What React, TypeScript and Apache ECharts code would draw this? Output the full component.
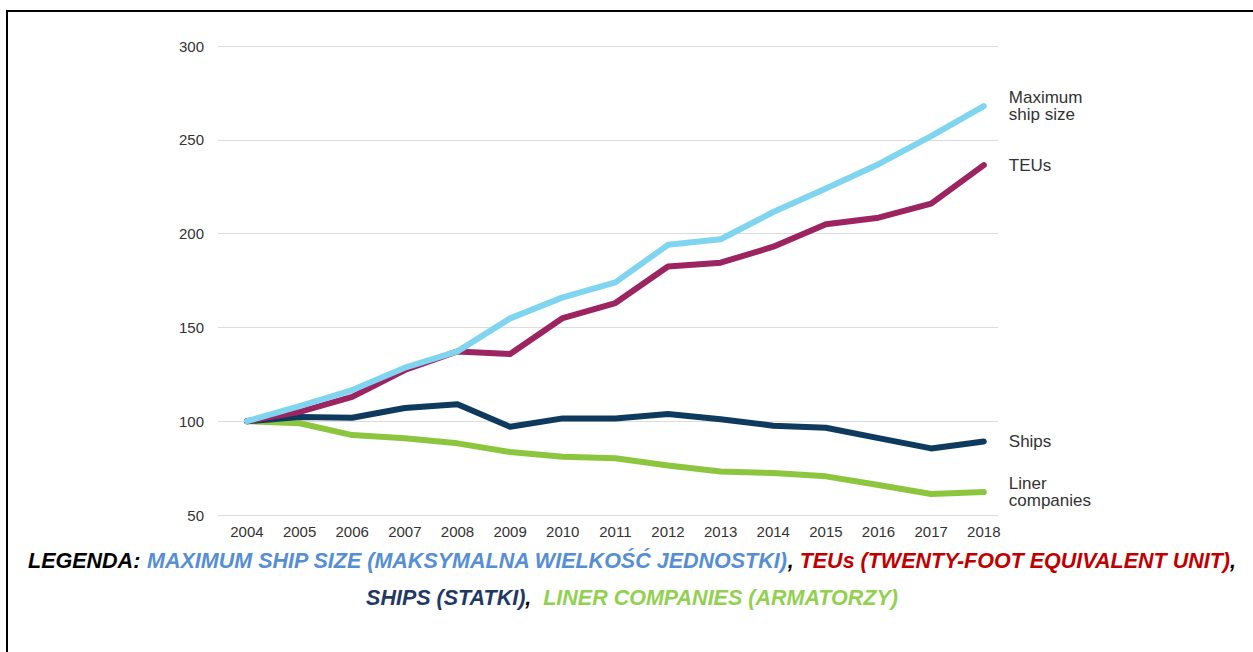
import React, { useEffect, useRef } from "react";
import * as echarts from "echarts";

const years = [2004, 2005, 2006, 2007, 2008, 2009, 2010, 2011, 2012, 2013, 2014, 2015, 2016, 2017, 2018];
const maxShipSize = [100, 108, 116.6, 128.5, 137.2, 154.8, 166, 174, 194, 197, 211.5, 224, 237, 252, 268];
const teus = [100, 105, 113, 127.3, 137.2, 135.8, 155, 163, 182.5, 184.5, 193, 205, 208.5, 216, 236.5];
const ships = [100, 102.2, 101.8, 107, 109, 97, 101.5, 101.5, 103.8, 101, 97.6, 96.5, 91, 85.5, 89.2];
const liner = [100, 98.9, 92.6, 90.9, 88.2, 83.6, 81.1, 80.2, 76.4, 73.2, 72.4, 70.6, 66, 61.2, 62.2];
const yTicks = [50, 100, 150, 200, 250, 300];

const seriesNames = ["Liner\ncompanies", "Ships", "TEUs", "Maximum\nship size"];
const seriesColors = ["#8cc63f", "#0e3a5e", "#9c2461", "#7fd5f0"];
const seriesData = [liner, ships, teus, maxShipSize];

export default function App() {
  const ref = useRef<HTMLDivElement>(null);
  useEffect(() => {
    if (!ref.current) return;
    const chart = echarts.init(ref.current, undefined, { renderer: "svg" });
    const font = "Liberation Sans";
    const legendFont = `italic bold 21.5px '${font}', Arial, sans-serif`;
    const legendStyle = (fill: string) => ({
      fill,
      font: legendFont,
    });
    chart.setOption({
      animation: false,
      backgroundColor: "#ffffff",
      grid: { left: 218, right: 255, top: 46, bottom: 137 },
      xAxis: {
        type: "value",
        min: 2003.45,
        max: 2018.27,
        splitLine: { show: false },
        axisLine: { show: false },
        axisTick: { show: false },
        axisLabel: {
          customValues: years,
          formatter: (v: number) => String(v),
          color: "#333333",
          fontFamily: font,
          fontSize: 15,
          margin: 9,
        },
      },
      yAxis: {
        type: "value",
        min: 50,
        max: 300,
        interval: 50,
        axisLine: { show: false },
        axisTick: { show: false },
        splitLine: { lineStyle: { color: "#dcdcdc", width: 1 } },
        axisLabel: {
          customValues: yTicks,
          color: "#333333",
          fontFamily: font,
          fontSize: 15,
          margin: 14,
        },
      },
      series: seriesData.map((d, i) => ({
        type: "line",
        name: seriesNames[i],
        data: d.map((v, j) => [years[j], v]),
        symbol: "none",
        lineStyle: { color: seriesColors[i], width: 6, cap: "round", join: "round" },
        itemStyle: { color: seriesColors[i] },
        endLabel: {
          show: true,
          formatter: seriesNames[i],
          color: "#333333",
          fontFamily: font,
          fontSize: 17,
          lineHeight: 17,
          distance: 25,
          align: "left",
          verticalAlign: "middle",
        },
        z: 2 + i,
      })),
      graphic: [
        {
          type: "rect",
          shape: { x: 7, y: 11, width: 1270, height: 700 },
          style: { fill: "none", stroke: "#000000", lineWidth: 2 },
          silent: true,
        },
        {
          type: "text",
          x: 632,
          y: 561,
          style: {
            text:
              "{k|LEGENDA:} {b|MAXIMUM SHIP SIZE (MAKSYMALNA WIELKOŚĆ JEDNOSTKI)}{k|, }{r|TEUs (TWENTY-FOOT EQUIVALENT UNIT)}{k|,}",
            align: "center",
            verticalAlign: "middle",
            font: legendFont,
            fill: "#000000",
            rich: {
              k: legendStyle("#000000"),
              b: legendStyle("#558ed5"),
              r: legendStyle("#c00000"),
            },
          },
        },
        {
          type: "text",
          x: 632,
          y: 598,
          style: {
            text: "{n|SHIPS (STATKI)}{k|,  }{g|LINER COMPANIES (ARMATORZY)}",
            align: "center",
            verticalAlign: "middle",
            font: legendFont,
            fill: "#000000",
            rich: {
              k: legendStyle("#000000"),
              n: legendStyle("#1f3864"),
              g: legendStyle("#92d050"),
            },
          },
        },
      ],
    });
    return () => chart.dispose();
  }, []);
  return (
    <div
      ref={ref}
      style={{ position: "fixed", left: 0, top: 0, width: 1253, height: 652 }}
    />
  );
}
